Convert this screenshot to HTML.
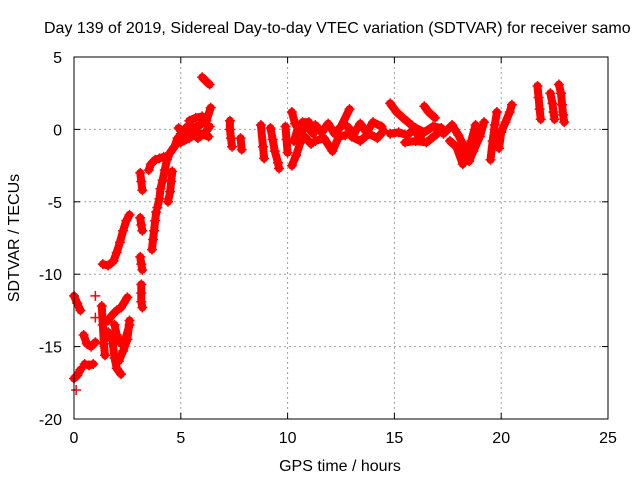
<!DOCTYPE html>
<html><head><meta charset="utf-8"><style>
body{margin:0;background:#fff;}
svg{display:block;font-family:"Liberation Sans",sans-serif;}
</style></head><body>
<svg id="chart" width="640" height="480" viewBox="0 0 640 480">
<text x="44" y="33" font-size="16" fill="#000">Day 139 of 2019, Sidereal Day-to-day VTEC variation (SDTVAR) for receiver samo</text>
<text transform="translate(19,238) rotate(-90)" text-anchor="middle" font-size="16">SDTVAR / TECUs</text>
<text x="340" y="471" text-anchor="middle" font-size="16">GPS time / hours</text>
<g id="grid"></g>
<g id="ticks"></g>
<g id="marks"></g>
<rect x="74" y="57" width="534" height="362" fill="none" stroke="#000" stroke-width="1"/>
</svg>
<script>
const xTicks=[0,5,10,15,20,25];
const yTicks=[-20,-15,-10,-5,0,5];
const tracks=[
[[0,-11.5],[0.15,-12],[0.3,-12.5]],
[[0,-17.2],[0.15,-17],[0.3,-16.6]],
[[0.1,-18]],
[[0.45,-14.2],[0.6,-14.8],[0.8,-15],[1.0,-14.7]],
[[0.5,-16.2],[0.7,-16.3],[0.9,-16.2]],
[[1.0,-11.5]],[[1.0,-13]],
[[1.3,-12.2],[1.35,-13.5],[1.4,-14.8],[1.45,-15.6]],
[[1.6,-13.2],[1.8,-12.8],[2.0,-12.5],[2.2,-12.3],[2.5,-11.6]],
[[1.6,-14],[1.8,-14.6],[1.9,-15.8],[2.0,-16.5],[2.2,-16.9]],
[[1.9,-13.5],[2.0,-14.2],[2.2,-14.8],[2.4,-14.5],[2.6,-13.5]],
[[2.1,-16],[2.3,-15.3],[2.5,-14.5],[2.6,-13.2]],
[[1.35,-9.3],[1.6,-9.4],[1.85,-9.1],[2.0,-8.5],[2.15,-7.8],[2.3,-7],[2.45,-6.3],[2.6,-5.9]],
[[3.1,-3],[3.15,-3.6],[3.2,-4.2]],
[[3.1,-6.1],[3.15,-6.6],[3.2,-7]],
[[3.1,-8.8],[3.15,-9.3],[3.2,-9.7]],
[[3.15,-10.7],[3.15,-11.3],[3.15,-11.9],[3.2,-12.3]],
[[3.65,-8.3],[3.7,-7.6],[3.75,-7],[3.8,-6.3],[3.85,-5.7]],
[[3.5,-2.8],[3.6,-2.4],[3.8,-2.1],[4.0,-2],[4.2,-1.9]],
[[3.9,-5.4],[4.0,-4.8],[4.05,-4.1],[4.15,-3.5],[4.25,-2.8],[4.35,-2.1],[4.5,-1.6],[4.7,-1.2],[4.85,-0.6]],
[[4.4,-5],[4.5,-4.3],[4.55,-3.6],[4.6,-2.9]],
[[4.8,-1],[5.0,-0.3],[5.3,0.2],[5.6,0.1],[5.9,0.3],[6.2,0.6],[6.4,1.5]],
[[4.9,0.1],[5.2,-0.5],[5.5,-0.2],[5.8,-0.6],[6.1,-0.3],[6.35,0.2]],
[[5.4,0.6],[5.7,0.8],[6.0,0.9]],
[[5.0,-0.9],[5.4,-0.6],[5.8,-0.2],[6.3,-0.5]],
[[6.0,3.6],[6.2,3.3],[6.35,3.1]],
[[7.3,0.6],[7.3,0],[7.35,-0.6],[7.4,-1.2]],
[[7.8,-0.6],[7.85,-1.4]],
[[8.75,0.3],[8.85,-1.2],[8.9,-2]],
[[9.2,0.1],[9.3,-0.7],[9.4,-1.5],[9.55,-2.3],[9.6,-2.7]],
[[9.9,0.2],[9.95,-0.7],[10.0,-1.6]],
[[10.2,1.2],[10.35,0.4],[10.6,-0.2],[10.9,0.2],[11.2,-0.3]],
[[10.2,-2.5],[10.4,-1.8],[10.6,-0.9],[10.8,-0.5],[11.1,-1.0]],
[[10.3,-0.8],[10.5,0.2],[10.7,0.5],[11.0,0.5]],
[[11.3,0.3],[11.6,-0.2],[11.9,0.4],[12.2,-0.3],[12.5,0.2],[12.9,1.4]],
[[11.3,-0.8],[11.7,-0.6],[12.1,-1.5],[12.4,-0.5],[12.7,-0.4]],
[[12.8,0.2],[13.1,-0.3],[13.4,0.4],[13.7,-0.2],[14.0,0.5],[14.4,0.2]],
[[13.0,-0.5],[13.4,-0.8],[13.8,-0.3],[14.2,-0.6],[14.5,-0.1]],
[[14.8,1.8],[15.1,1.2],[15.4,0.8],[15.8,0.3],[16.0,-0.2],[16.2,-0.6]],
[[14.8,-0.3],[15.2,-0.2],[15.6,-0.4],[16.0,0.1],[16.4,-0.2],[16.8,0.2],[17.2,0.1]],
[[15.5,-0.9],[16.0,-0.8],[16.5,-0.9],[17.0,-0.3]],
[[16.4,1.6],[16.6,1.2],[16.9,0.8]],
[[17.3,-0.3],[17.7,0.3],[18.0,-0.4],[18.3,-1.3],[18.5,-2.2],[18.7,-1.5],[19.0,-0.5],[19.2,0.5]],
[[17.6,-0.8],[17.9,-1.2],[18.2,-2.4],[18.6,-0.8],[18.8,0.3]],
[[19.5,-2.1],[19.6,-0.8],[19.7,0.3],[19.8,1.2]],
[[19.9,-1.3],[20.0,-0.2],[20.2,0.5],[20.4,1.2],[20.5,1.7]],
[[21.7,3],[21.75,2.2],[21.8,1.4],[21.85,0.7]],
[[22.3,2.5],[22.4,1.8],[22.45,1.2],[22.5,0.7]],
[[22.7,3.1],[22.8,2.5],[22.85,1.7],[22.9,1.0],[22.95,0.5]]
];
const X0=74,X1=608,Y0=419,Y1=57;
const xs=v=>X0+(v-0)/(25-0)*(X1-X0);
const ys=v=>Y0-(v+20)/(25)*(Y0-Y1);
const NS='http://www.w3.org/2000/svg';
const grid=document.getElementById('grid'),tk=document.getElementById('ticks'),mk=document.getElementById('marks');
function mkEl(t,a,p){const e=document.createElementNS(NS,t);for(const k in a)e.setAttribute(k,a[k]);p.appendChild(e);return e;}
xTicks.forEach(v=>{const x=xs(v);
 if(v>0&&v<25){const g=mkEl('line',{x1:x,x2:x,y1:Y0,y2:Y1,stroke:'#a0a0a0','stroke-dasharray':'2,3'},grid);
 
 }
 const t=mkEl('text',{x:x,y:Y0+24,'text-anchor':'middle','font-size':'16'},tk);t.textContent=v;
 
 
 mkEl('line',{x1:x,x2:x,y1:Y0,y2:Y0-6,stroke:'#000'},tk);mkEl('line',{x1:x,x2:x,y1:Y1,y2:Y1+6,stroke:'#000'},tk);});
yTicks.forEach(v=>{const y=ys(v);
 if(v>-20&&v<5){const g=mkEl('line',{x1:X0,x2:X1,y1:y,y2:y,stroke:'#a0a0a0','stroke-dasharray':'2,3'},grid);
 
 }
 const t=mkEl('text',{x:X0-12,y:y+6,'text-anchor':'end','font-size':'16'},tk);t.textContent=v;
 
 
 mkEl('line',{x1:X0,x2:X0+6,y1:y,y2:y,stroke:'#000'},tk);mkEl('line',{x1:X1,x2:X1-6,y1:y,y2:y,stroke:'#000'},tk);});
tracks.forEach(tr=>{
 if(tr.length>1){const pl=mkEl('polyline',{points:tr.map(p=>xs(p[0])+','+ys(p[1])).join(' '),fill:'none',stroke:'#f00','stroke-width':8,'stroke-linejoin':'round','stroke-linecap':'round'},mk);
 
 }
 tr.forEach(p=>{const x=xs(p[0]),y=ys(p[1]);
  const m=mkEl('path',{d:`M${x-5},${y}H${x+5}M${x},${y-5}V${y+5}`,stroke:'#f00','stroke-width':1.5},mk);
  
  });
});
</script>
</body></html>
